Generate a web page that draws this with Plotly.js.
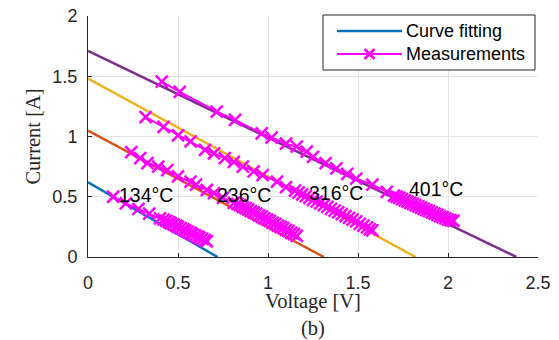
<!DOCTYPE html>
<html><head><meta charset="utf-8">
<script src="https://cdn.plot.ly/plotly-3.0.1.min.js"></script>
<style>html,body{margin:0;padding:0;background:#fff}#plot{width:559px;height:340px}</style>
</head><body><div id="plot"></div>
<script>
// Fitted lines: V values and I values (end points)
const fitBlueV = [0, 0.72],   fitBlueI = [0.62, 0];
const fitOrangeV = [0, 1.31], fitOrangeI = [1.05, 0];
const fitYellowV = [0, 1.82], fitYellowI = [1.48, 0];
const fitPurpleV = [0, 2.38], fitPurpleI = [1.71, 0];

// Measurements
const meas134V = [0.14,0.21,0.28,0.34,0.40,0.42,0.435,0.45,0.46,0.475,0.49,0.50,0.515,0.53,0.54,0.555,0.57,0.58,0.595,0.61,0.62,0.635,0.65,0.66];
const meas134I = [0.50,0.445,0.40,0.36,0.32,0.31,0.30,0.29,0.28,0.27,0.26,0.25,0.24,0.23,0.22,0.21,0.20,0.19,0.18,0.17,0.16,0.15,0.14,0.13];
const meas236V = [0.24,0.29,0.33,0.39,0.44,0.50,0.57,0.60,0.66,0.70,0.75,0.81,0.83,0.845,0.86,0.875,0.89,0.905,0.92,0.935,0.95,0.965,0.98,0.995,1.01,1.025,1.04,1.055,1.07,1.085,1.10,1.115,1.13,1.145,1.16];
const meas236I = [0.87,0.82,0.78,0.75,0.72,0.67,0.625,0.60,0.556,0.53,0.49,0.45,0.44,0.43,0.415,0.405,0.395,0.38,0.37,0.36,0.345,0.335,0.32,0.31,0.30,0.285,0.275,0.26,0.25,0.24,0.225,0.215,0.20,0.19,0.175];
const meas316V = [0.32,0.42,0.50,0.57,0.65,0.70,0.76,0.81,0.86,0.92,0.97,1.05,1.10,1.15,1.17,1.19,1.21,1.23,1.25,1.27,1.29,1.31,1.33,1.35,1.37,1.39,1.41,1.43,1.45,1.47,1.49,1.51,1.53,1.55,1.565,1.58];
const meas316I = [1.16,1.08,1.01,0.96,0.89,0.86,0.82,0.79,0.75,0.71,0.68,0.625,0.58,0.55,0.535,0.52,0.505,0.49,0.475,0.46,0.445,0.43,0.415,0.40,0.385,0.37,0.355,0.34,0.325,0.31,0.295,0.275,0.26,0.245,0.23,0.22];
const meas401V = [0.41,0.51,0.715,0.817,0.965,1.02,1.10,1.16,1.215,1.25,1.32,1.38,1.44,1.49,1.58,1.66,1.70,1.715,1.73,1.745,1.76,1.775,1.79,1.805,1.82,1.835,1.85,1.865,1.88,1.895,1.91,1.925,1.94,1.955,1.97,1.985,2.00,2.015,2.03];
const meas401I = [1.455,1.37,1.206,1.137,1.026,0.99,0.94,0.915,0.874,0.83,0.78,0.736,0.69,0.65,0.60,0.54,0.51,0.50,0.49,0.48,0.47,0.46,0.45,0.44,0.43,0.42,0.41,0.40,0.39,0.38,0.37,0.36,0.35,0.34,0.33,0.32,0.31,0.305,0.30];

const labels = ['134\u00B0C','236\u00B0C','316\u00B0C','401\u00B0C'];
const labelV = [0.159, 0.706, 1.215, 1.772];
const labelI = [0.515, 0.515, 0.53, 0.565];

const legendNames = ['Curve fitting','Measurements'];

const fitColors = ['#0072BD','#D95319','#EDB120','#7E2F8E'];
const measColor = '#FF00FF';
const fits = [[fitBlueV,fitBlueI],[fitOrangeV,fitOrangeI],[fitYellowV,fitYellowI],[fitPurpleV,fitPurpleI]];
const meas = [[meas134V,meas134I],[meas236V,meas236I],[meas316V,meas316I],[meas401V,meas401I]];

const traces = [];
fits.forEach((f,i)=>traces.push({x:f[0],y:f[1],mode:'lines',type:'scatter',name:legendNames[0],
  showlegend:false,line:{color:fitColors[i],width:2.5}}));
meas.forEach((m,i)=>traces.push({x:m[0],y:m[1],mode:'lines+markers',type:'scatter',name:legendNames[1],
  showlegend:false,line:{color:measColor,width:2},
  marker:{symbol:'x-thin-open',size:12,color:measColor,line:{color:measColor,width:2.5}}}));

// Custom legend (decoration, paper coordinates)
const W = 450, H = 241; // plot area size px
const px = p => (p-88)/W, py = p => (257-p)/H;
const legRows = [31, 54];
const shapes = [
  {type:'rect',xref:'paper',yref:'paper',x0:px(323),x1:px(535),y0:py(70),y1:py(15),
   line:{color:'#262626',width:1},fillcolor:'#fff',layer:'above'},
  {type:'line',xref:'paper',yref:'paper',x0:px(337),x1:px(402),y0:py(legRows[0]),y1:py(legRows[0]),
   line:{color:fitColors[0],width:2.5},layer:'above'},
  {type:'line',xref:'paper',yref:'paper',x0:px(337),x1:px(402),y0:py(legRows[1]),y1:py(legRows[1]),
   line:{color:measColor,width:2},layer:'above'},
  {type:'path',xref:'paper',yref:'paper',xsizemode:'pixel',ysizemode:'pixel',
   xanchor:px(369.5),yanchor:py(legRows[1]),path:'M-5,-5L5,5M-5,5L5,-5',
   line:{color:measColor,width:2.5},layer:'above'}
];

const tickFont = {family:'Liberation Sans, Arial, sans-serif',size:18,color:'#262626'};
const titleFont = {family:'Liberation Serif, Times New Roman, serif',size:20.5,color:'#262626'};
const annotations = labels.map((t,i)=>({x:labelV[i],y:labelI[i],text:t,showarrow:false,xanchor:'left',yanchor:'middle',
    font:{family:'Liberation Sans, Arial, sans-serif',size:19.5,color:'#000'}}));
legendNames.forEach((n,i)=>annotations.push({xref:'paper',yref:'paper',x:px(404),y:py(legRows[i]),text:n,
  showarrow:false,xanchor:'left',yanchor:'middle',font:{family:'Liberation Sans, Arial, sans-serif',size:18,color:'#000'}}));

const layout = {
  width:559,height:340,
  margin:{l:88,r:21,t:16,b:83},
  paper_bgcolor:'#fff',plot_bgcolor:'#fff',
  showlegend:false,
  xaxis:{range:[0,2.5],dtick:0.5,tick0:0,showgrid:true,gridcolor:'#e4e4e4',zeroline:false,
    showline:true,linecolor:'#262626',linewidth:1,ticks:'inside',ticklen:4,tickcolor:'#262626',
    ticklabelstandoff:9,tickfont:tickFont,title:{text:'Voltage [V]<br>(b)',font:titleFont,standoff:0}},
  yaxis:{range:[0,2],dtick:0.5,tick0:0,showgrid:true,gridcolor:'#e4e4e4',zeroline:false,
    showline:true,linecolor:'#262626',linewidth:1,ticks:'inside',ticklen:4,tickcolor:'#262626',
    ticklabelstandoff:6,tickfont:tickFont,title:{text:'Current [A]',font:titleFont,standoff:6}},
  shapes:shapes,
  annotations:annotations
};
Plotly.newPlot('plot',traces,layout,{displayModeBar:false,staticPlot:true});
</script></body></html>
